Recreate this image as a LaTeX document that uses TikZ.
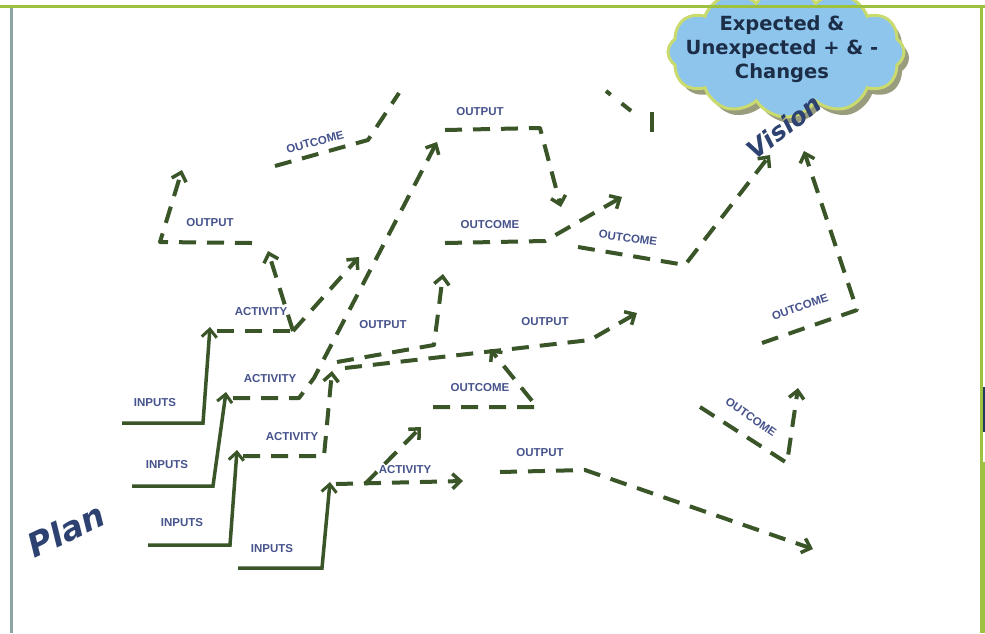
\documentclass[tikz,border=0pt]{standalone}
\usepackage{fontspec}
\setmainfont{Liberation Sans}
\newfontfamily\dejavu{DejaVu Sans}
\usetikzlibrary{arrows.meta,shapes.symbols}
\definecolor{arrgreen}{HTML}{3A5528}
\definecolor{lblblue}{HTML}{46538C}
\definecolor{navy}{HTML}{1C2D48}
\definecolor{titleblue}{HTML}{2D4270}
\definecolor{framegreen}{HTML}{9EC13F}
\definecolor{framegray}{HTML}{8AA3A3}
\definecolor{cloudblue}{HTML}{8EC5EC}
\definecolor{cloudedge}{HTML}{C9DB6E}
\definecolor{cloudshadow}{HTML}{9A9C7E}
\definecolor{framenavy}{HTML}{1F3A5A}
\tikzset{
  flow/.style={draw=arrgreen, line width=4pt, dash pattern=on 17pt off 11pt, line join=round},
  flowarrow/.style={flow, -{Straight Barb[length=8pt,width=15pt,line width=3.5pt]}},
  inputline/.style={draw=arrgreen, line width=3.5pt, -{Straight Barb[length=8pt,width=15pt,line width=3pt]}},
  lbl/.style={text=lblblue, font=\fontsize{11.5}{12}\selectfont\bfseries, inner sep=0pt},
  cloudbox/.style={cloud, cloud puffs=12, cloud puff arc=115, aspect=1.9, minimum width=236pt, minimum height=130pt, inner sep=0pt},
}
\begin{document}
\begin{tikzpicture}[x=1pt,y=-1pt]
\useasboundingbox (0,0) rectangle (985,633);
\fill[white] (0,0) rectangle (985,633);

% ---------- cloud ----------
\node[cloudbox, fill=cloudshadow, draw=none] (cloudsh) at (791,58) {};
\node[cloudbox, fill=cloudblue, draw=cloudedge, line width=3pt] (cloudn) at (786,52) {};
\node[text=navy, font=\dejavu\bfseries\fontsize{19.5}{24}\selectfont, align=center, inner sep=0pt] (cloudtxt) at (782,49) {Expected \&\\Unexpected + \& -\\Changes};

% ---------- frame ----------
\draw[framegreen, line width=3pt] (0,6) -- (985,6);
\draw[framegray, line width=3pt] (11,7.5) -- (11,633);
\draw[framegreen, line width=2.5pt] (981.5,6) -- (981.5,633);
\fill[framegreen] (980,462) rectangle (985,633);
\fill[framenavy] (983,387) rectangle (985,432);

% ---------- coordinates ----------
\coordinate (i1s) at (122,423); \coordinate (i1c) at (203,423); \coordinate (i1e) at (210,327);
\coordinate (i2s) at (132,486); \coordinate (i2c) at (213,486); \coordinate (i2e) at (226,392);
\coordinate (i3s) at (148,545); \coordinate (i3c) at (230,545); \coordinate (i3e) at (237,450);
\coordinate (i4s) at (238,568); \coordinate (i4c) at (322,568); \coordinate (i4e) at (330,482);

\coordinate (a1s) at (217,331); \coordinate (a1c) at (293,331);
\coordinate (a1l) at (268,251); \coordinate (a1r) at (359,257);
\coordinate (a2s) at (233,398); \coordinate (a2c) at (299,398); \coordinate (a2b) at (314,378); \coordinate (a2e) at (437,142);
\coordinate (a3s) at (243,456); \coordinate (a3c) at (324,456); \coordinate (a3e) at (332,371);
\coordinate (a4s) at (336,484); \coordinate (a4e) at (463,481);
\coordinate (a4b) at (365,484); \coordinate (a4u) at (421,427);

\coordinate (m1s) at (337,362); \coordinate (m1c) at (434,345); \coordinate (m1e) at (443,274);
\coordinate (m2s) at (345,368); \coordinate (m2c) at (590,340); \coordinate (m2e) at (637,313);
\coordinate (l1s) at (433,407); \coordinate (l1c) at (537,407); \coordinate (l1e) at (490,349);
\coordinate (t1s) at (445,130); \coordinate (t1c) at (540,128); \coordinate (t1e) at (561,207);
\coordinate (c1s) at (445,243); \coordinate (c1c) at (545,241); \coordinate (c1e) at (622,197);
\coordinate (r1s) at (578,247); \coordinate (r1c) at (685,265); \coordinate (r1e) at (770,155);
\coordinate (k1s) at (275,166); \coordinate (k1c) at (368,140); \coordinate (k1e) at (399,93);
\coordinate (p1s) at (252,243); \coordinate (p1c) at (160,242); \coordinate (p1e) at (182,170);
\coordinate (v2s) at (762,343); \coordinate (v2c) at (857,310); \coordinate (v2e) at (804,151);
\coordinate (b1s) at (700,407); \coordinate (b1c) at (787,463); \coordinate (b1e) at (798,388);
\coordinate (u1s) at (500,472); \coordinate (u1c) at (585,470); \coordinate (u1e) at (813,549);
\coordinate (f1s) at (606,91); \coordinate (f1e) at (640,118);
\coordinate (f2s) at (652,112); \coordinate (f2e) at (652,134);

% ---------- input lines ----------
\draw[inputline] (i1s) -- (i1c) -- (i1e);
\draw[inputline] (i2s) -- (i2c) -- (i2e);
\draw[inputline] (i3s) -- (i3c) -- (i3e);
\draw[inputline] (i4s) -- (i4c) -- (i4e);

% ---------- dashed flows ----------
\draw[flow] (a1s) -- (a1c);
\draw[flowarrow] (a1c) -- (a1l);
\draw[flowarrow] (a1c) -- (a1r);
\draw[flowarrow] (a2s) -- (a2c) -- (a2b) -- (a2e);
\draw[flowarrow] (a3s) -- (a3c) -- (a3e);
\draw[flowarrow] (a4s) -- (a4e);
\draw[flowarrow] (a4b) -- (a4u);
\draw[flowarrow] (m1s) -- (m1c) -- (m1e);
\draw[flowarrow] (m2s) -- (m2c) -- (m2e);
\draw[flowarrow] (l1s) -- (l1c) -- (l1e);
\draw[flowarrow] (t1s) -- (t1c) -- (t1e);
\draw[flowarrow] (c1s) -- (c1c) -- (c1e);
\draw[flowarrow] (r1s) -- (r1c) -- (r1e);
\draw[flow] (k1s) -- (k1c) -- (k1e);
\draw[flowarrow] (p1s) -- (p1c) -- (p1e);
\draw[flowarrow] (v2s) -- (v2c) -- (v2e);
\draw[flowarrow] (b1s) -- (b1c) -- (b1e);
\draw[flowarrow] (u1s) -- (u1c) -- (u1e);
\draw[flow, dash pattern=on 6pt off 14pt on 12pt off 20pt] (f1s) -- (f1e);
\draw[flow, dash pattern=on 20pt off 5pt] (f2s) -- (f2e);

% ---------- labels ----------
\node[lbl] (in1) at (155,403) {INPUTS};
\node[lbl] (in2) at (167,465) {INPUTS};
\node[lbl] (in3) at (182,523) {INPUTS};
\node[lbl] (in4) at (272,549) {INPUTS};
\node[lbl] (ac1) at (261,312) {ACTIVITY};
\node[lbl] (ac2) at (270,379) {ACTIVITY};
\node[lbl] (ac3) at (292,437) {ACTIVITY};
\node[lbl] (ac4) at (405,470) {ACTIVITY};
\node[lbl] (op1) at (210,223) {OUTPUT};
\node[lbl] (op2) at (480,112) {OUTPUT};
\node[lbl] (op3) at (383,325) {OUTPUT};
\node[lbl] (op4) at (545,322) {OUTPUT};
\node[lbl] (op5) at (540,453) {OUTPUT};
\node[lbl, rotate=15] (oc1) at (315,142) {OUTCOME};
\node[lbl] (oc2) at (490,225) {OUTCOME};
\node[lbl, rotate=-8] (oc3) at (628,238) {OUTCOME};
\node[lbl] (oc4) at (480,388) {OUTCOME};
\node[lbl, rotate=19] (oc5) at (800,307) {OUTCOME};
\node[lbl, rotate=-35] (oc6) at (751,417) {OUTCOME};

% ---------- titles ----------
\node[text=titleblue, font=\dejavu\bfseries\itshape\fontsize{33}{33}\selectfont, rotate=25, inner sep=0pt] (plan) at (66,530) {Plan};
\node[text=titleblue, font=\dejavu\bfseries\itshape\fontsize{25}{25}\selectfont, rotate=38, inner sep=0pt] (vision) at (784,127) {Vision};
\end{tikzpicture}
\end{document}
